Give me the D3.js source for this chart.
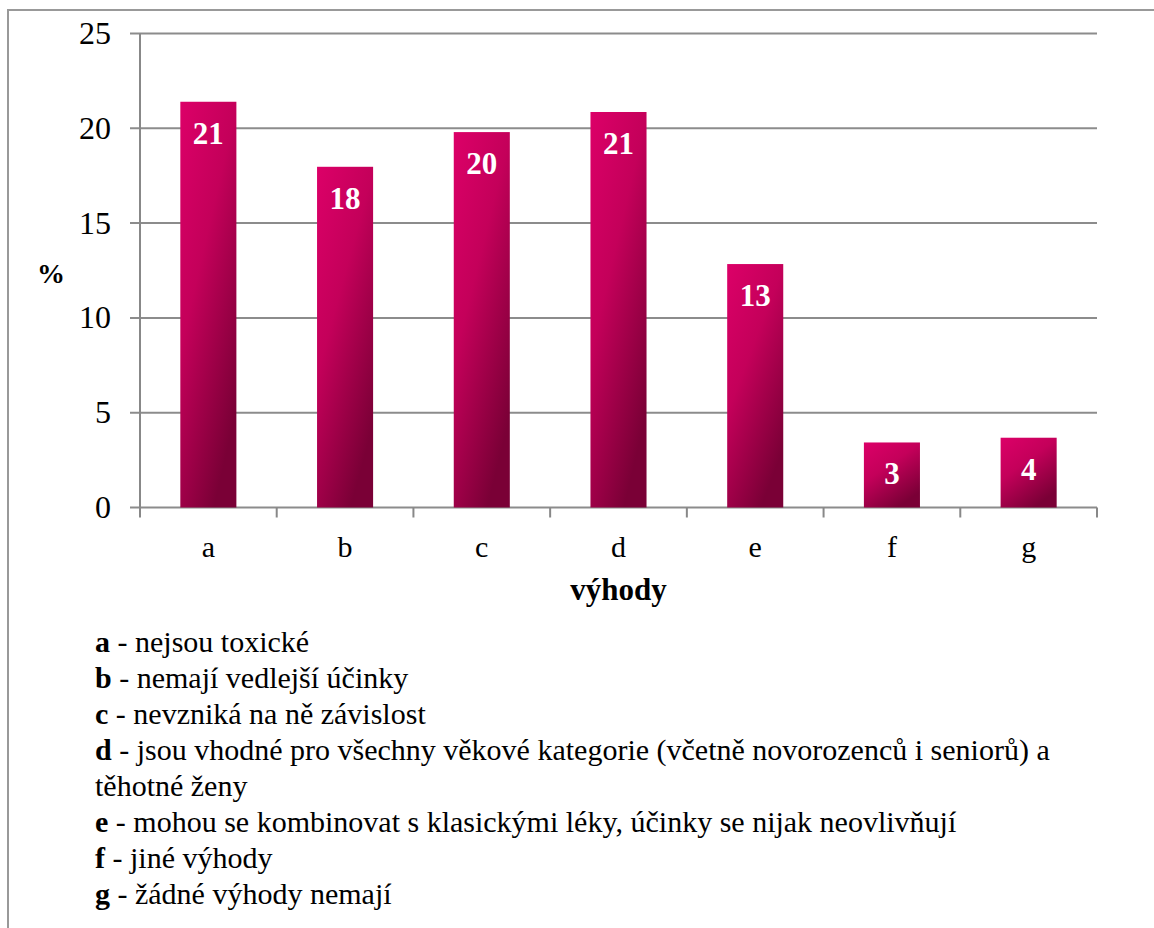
<!DOCTYPE html>
<html>
<head>
<meta charset="utf-8">
<script src="https://cdn.jsdelivr.net/npm/d3@7"></script>
</head>
<body style="margin:0">
<script>
const categories = ["a", "b", "c", "d", "e", "f", "g"]
const values = [21.4, 17.97, 19.8, 20.86, 12.84, 3.43, 3.68]
const valueLabels = ["21", "18", "20", "21", "13", "3", "4"]
const yTicks = [0, 5, 10, 15, 20, 25]
const legendKeys = ["a", "b", "c", "d", "", "e", "f", "g"]
const legendTexts = [
  "- nejsou toxické",
  "- nemají vedlejší účinky",
  "- nevzniká na ně závislost",
  "- jsou vhodné pro všechny věkové kategorie (včetně novorozenců i seniorů) a",
  "těhotné ženy",
  "- mohou se kombinovat s klasickými léky, účinky se nijak neovlivňují",
  "- jiné výhody",
  "- žádné výhody nemají"
]

const W = 1154, H = 928
const MARGIN = { TOP: 33.5, LEFT: 140, RIGHT: 1097, BOTTOM: 507.5 }
const FONT = 30

const svg = d3.select("body").append("svg")
  .attr("width", W)
  .attr("height", H)

// outer frame (runs off the page on the right and bottom)
svg.append("path")
  .attr("d", `M${W},10H8V${H}`)
  .attr("fill", "none")
  .attr("stroke", "#999")
  .attr("stroke-width", 2)

const grad = svg.append("defs").append("linearGradient")
  .attr("id", "barGrad")
  .attr("x1", 0).attr("y1", 0).attr("x2", 0.6).attr("y2", 1)
grad.append("stop").attr("offset", "0%").attr("stop-color", "#dc0068")
grad.append("stop").attr("offset", "45%").attr("stop-color", "#c4005a")
grad.append("stop").attr("offset", "100%").attr("stop-color", "#7a0036")

const y = d3.scaleLinear()
  .domain([0, 25])
  .range([MARGIN.BOTTOM, MARGIN.TOP])

const x = d3.scaleBand()
  .domain(categories)
  .range([MARGIN.LEFT, MARGIN.RIGHT])
  .paddingInner(0.59)
  .paddingOuter(0.295)

const xEdges = d3.scaleLinear()
  .domain([0, categories.length])
  .range([MARGIN.LEFT, MARGIN.RIGHT])

// gridlines
svg.append("g")
  .selectAll("line")
  .data(yTicks)
  .join("line")
  .attr("x1", MARGIN.LEFT - 10).attr("x2", MARGIN.RIGHT)
  .attr("y1", d => y(d)).attr("y2", d => y(d))
  .attr("stroke", "#8c8c8c")
  .attr("stroke-width", 2)

svg.append("line")
  .attr("x1", MARGIN.LEFT).attr("x2", MARGIN.LEFT)
  .attr("y1", MARGIN.TOP).attr("y2", MARGIN.BOTTOM)
  .attr("stroke", "#888").attr("stroke-width", 2)

svg.append("g")
  .selectAll("line")
  .data(d3.range(categories.length + 1))
  .join("line")
  .attr("x1", d => xEdges(d)).attr("x2", d => xEdges(d))
  .attr("y1", MARGIN.BOTTOM).attr("y2", MARGIN.BOTTOM + 10)
  .attr("stroke", "#888").attr("stroke-width", 2)

// bars
svg.append("g").selectAll("rect")
  .data(values)
  .join("rect")
  .attr("x", (d, i) => x(categories[i]))
  .attr("y", d => y(d))
  .attr("width", x.bandwidth())
  .attr("height", d => y(0) - y(d))
  .attr("fill", "url(#barGrad)")

// y labels
svg.append("g").selectAll("text")
  .data(yTicks)
  .join("text")
  .attr("x", MARGIN.LEFT - 29)
  .attr("y", d => y(d) + 10.5)
  .attr("text-anchor", "end")
  .attr("font-family", "Liberation Serif")
  .attr("font-size", FONT + 2)
  .text(d => d)

// value labels
svg.append("g").selectAll("text")
  .data(values)
  .join("text")
  .attr("x", (d, i) => x(categories[i]) + x.bandwidth() / 2)
  .attr("y", d => y(d) + 42)
  .attr("text-anchor", "middle")
  .attr("font-family", "Liberation Serif")
  .attr("font-size", FONT + 1)
  .attr("font-weight", "bold")
  .attr("fill", "#fff")
  .text((d, i) => valueLabels[i])

// category labels
svg.append("g").selectAll("text")
  .data(categories)
  .join("text")
  .attr("x", d => x(d) + x.bandwidth() / 2)
  .attr("y", MARGIN.BOTTOM + 49.5)
  .attr("text-anchor", "middle")
  .attr("font-family", "Liberation Serif")
  .attr("font-size", FONT)
  .text(d => d)

svg.append("text")
  .attr("x", (MARGIN.LEFT + MARGIN.RIGHT) / 2)
  .attr("y", 600)
  .attr("text-anchor", "middle")
  .attr("font-family", "Liberation Serif")
  .attr("font-size", FONT + 1)
  .attr("font-weight", "bold")
  .text("výhody")

svg.append("text")
  .attr("x", 51)
  .attr("y", 283)
  .attr("text-anchor", "middle")
  .attr("font-family", "Liberation Serif")
  .attr("font-size", FONT - 2)
  .attr("font-weight", "bold")
  .text("%")

// legend: bold key and plain description as separate texts
legendTexts.forEach((t, i) => {
  const yy = 652 + i * 36
  let tx = 95
  if (legendKeys[i]) {
    const key = svg.append("text")
      .attr("x", 95)
      .attr("y", yy)
      .attr("font-family", "Liberation Serif")
      .attr("font-size", FONT)
      .attr("font-weight", "bold")
      .text(legendKeys[i])
    tx = 95 + key.node().getComputedTextLength() + FONT * 0.25
  }
  svg.append("text")
    .attr("x", tx)
    .attr("y", yy)
    .attr("font-family", "Liberation Serif")
    .attr("font-size", FONT)
    .text(t)
})
</script>
</body>
</html>
